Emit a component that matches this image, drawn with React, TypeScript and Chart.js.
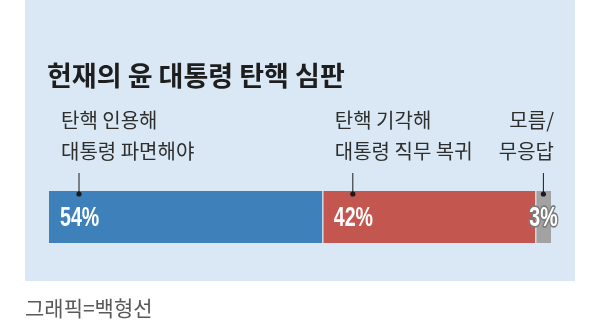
import React, { useEffect, useRef } from "react";
import { Chart, registerables } from "chart.js";

Chart.register(...registerables);

const title = "헌재의 윤 대통령 탄핵 심판";
const credit = "그래픽=백형선";
const categories = ["탄핵 심판"];
const seriesLabels = [
  ["탄핵 인용해", "대통령 파면해야"],
  ["탄핵 기각해", "대통령 직무 복귀"],
  ["모름/", "무응답"],
];
const values = [54, 42, 3];
const colors = ["#3d80ba", "#c45650", "#a2a2a2"];

const PANEL = "#d9e8f4";
const KFONT = '"Noto Sans CJK KR", "Noto Sans", sans-serif';
const NFONT = '"Liberation Sans", Arial, sans-serif';
const SQUEEZE = 0.7;

function condensedText(ctx: any, txt: string, x: number, y: number, align: string, outline: boolean) {
  ctx.save();
  ctx.translate(x, y);
  ctx.scale(SQUEEZE, 1);
  ctx.textAlign = align;
  ctx.textBaseline = "middle";
  if (outline) {
    ctx.lineWidth = 3.5;
    ctx.strokeStyle = "#7a7a7a";
    ctx.lineJoin = "round";
    ctx.strokeText(txt, 0, 0);
  }
  ctx.fillStyle = "#ffffff";
  ctx.fillText(txt, 0, 0);
  ctx.restore();
}

const overlay = {
  id: "overlay",
  beforeDraw(chart: any) {
    const ctx = chart.ctx;
    ctx.save();
    ctx.fillStyle = "#ffffff";
    ctx.fillRect(0, 0, chart.width, chart.height);
    ctx.fillStyle = PANEL;
    ctx.fillRect(25, 0, 550, 281);
    ctx.fillStyle = "#1e1e1e";
    ctx.font = `bold 27px ${KFONT}`;
    ctx.textBaseline = "middle";
    ctx.textAlign = "left";
    ctx.fillText(title, 47, 76);
    ctx.fillStyle = "#5a5a5a";
    ctx.font = `21px ${KFONT}`;
    ctx.fillText(credit, 25, 308);
    ctx.restore();
  },
  afterDatasetsDraw(chart: any) {
    const ctx = chart.ctx;
    ctx.save();
    chart.data.datasets.forEach((ds: any, i: number) => {
      const meta = chart.getDatasetMeta(i);
      const el: any = meta.data[0];
      const start = Math.min(el.base, el.x);
      const end = Math.max(el.base, el.x);
      const top = el.y - el.height / 2;
      const w = end - start;
      const small = w < 40;
      const dotX = small ? (start + end) / 2 : start + 30;
      // connector
      ctx.strokeStyle = "#1a1a1a";
      ctx.lineWidth = 1;
      ctx.beginPath();
      ctx.moveTo(dotX, top - 18);
      ctx.lineTo(dotX, top + 3);
      ctx.stroke();
      ctx.fillStyle = "#1a1a1a";
      ctx.beginPath();
      ctx.arc(dotX, top + 3, 2.6, 0, Math.PI * 2);
      ctx.fill();
      // labels
      const lines = seriesLabels[i];
      ctx.fillStyle = "#2e2e2e";
      ctx.font = `20px ${KFONT}`;
      ctx.textBaseline = "middle";
      if (small) {
        ctx.textAlign = "right";
        lines.forEach((t, k) => ctx.fillText(t, end + 3, top - 71 + k * 31));
      } else {
        ctx.textAlign = "left";
        lines.forEach((t, k) => ctx.fillText(t, start + 12, top - 71 + k * 31));
      }
      // percent
      const txt = `${values[i]}%`;
      ctx.font = `bold 28px ${NFONT}`;
      if (small) {
        condensedText(ctx, txt, (start + end) / 2, el.y + 1, "center", true);
      } else {
        condensedText(ctx, txt, start + 11, el.y + 1, "left", false);
      }
    });
    ctx.restore();
  },
};

export default function App() {
  const ref = useRef<HTMLCanvasElement>(null);
  useEffect(() => {
    const n = values.length;
    const total = values.reduce((a, b) => a + b, 0);
    const chart = new Chart(ref.current!, {
      type: "bar",
      data: {
        labels: categories,
        datasets: values.map((v, i) => ({
          label: seriesLabels[i].join(" "),
          data: [v],
          backgroundColor: colors[i],
          borderColor: PANEL,
          borderWidth: { top: 0, bottom: 0, left: i > 0 ? 1 : 0, right: i < n - 1 ? 1 : 0 },
          borderSkipped: false,
          categoryPercentage: 1,
          barPercentage: 1,
        })),
      },
      options: {
        indexAxis: "y",
        responsive: false,
        animation: false,
        layout: { padding: { left: 49, right: 49, top: 191, bottom: 87 } },
        scales: {
          x: { stacked: true, display: false, min: 0, max: total },
          y: { stacked: true, display: false },
        },
        plugins: { legend: { display: false }, tooltip: { enabled: false } },
      },
      plugins: [overlay],
    } as any);
    return () => chart.destroy();
  }, []);
  return (
    <div style={{ position: "absolute", left: 0, top: 0, width: 600, height: 330 }}>
      <canvas ref={ref} width={600} height={330} style={{ width: 600, height: 330 }} />
    </div>
  );
}
